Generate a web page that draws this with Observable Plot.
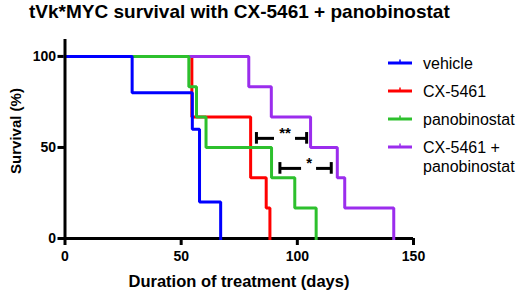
<!DOCTYPE html>
<html><head><meta charset="utf-8">
<script src="https://cdn.jsdelivr.net/npm/d3@7"></script>
<script src="https://cdn.jsdelivr.net/npm/@observablehq/plot@0.6"></script>
<style>
body{margin:0;background:#fff;font-family:"Liberation Sans",Arial,sans-serif;}
#title{height:30px;line-height:24px;font-size:19px;font-weight:bold;padding-left:29px;white-space:nowrap;color:#000;}
#chart svg{overflow:visible;}
</style></head><body>
<div id="title">tVk*MYC survival with CX-5461 + panobinostat</div>
<div id="chart"></div>
<script>
// ---- data ----
const groups = ["vehicle", "CX-5461", "panobinostat", "CX-5461 + panobinostat"];
const colors = ["#0000ff", "#ff0000", "#2dc02d", "#9b2ded"];

const vehicleDays = [0, 28.9, 54.8, 57.9, 67];
const vehicleSurv = [100, 80, 60, 20, 0];
const cxDays = [0, 54.6, 79.9, 86.6, 88.2];
const cxSurv = [100, 66.7, 33.3, 16.7, 0];
const panoDays = [0, 53.3, 56.6, 60.7, 88.9, 98.9, 108.1];
const panoSurv = [100, 83.3, 66.7, 50, 33.3, 16.7, 0];
const comboDays = [0, 79.1, 88.8, 105.7, 117.2, 120.4, 141.5];
const comboSurv = [100, 83.3, 66.7, 50, 33.3, 16.7, 0];

const xTicks = [0, 50, 100, 150];
const yTicks = [0, 50, 100];

// significance brackets (days, survival %)
const sigFrom = [82.4, 92.5];
const sigTo = [104, 114.6];
const sigLevel = [55, 38.5];
const sigLabels = ["**", "*"];

// ---- build tables ----
const series = {
  "vehicle": [vehicleDays, vehicleSurv],
  "CX-5461": [cxDays, cxSurv],
  "panobinostat": [panoDays, panoSurv],
  "CX-5461 + panobinostat": [comboDays, comboSurv]
};
// drawing order (bottom to top)
const drawOrder = ["CX-5461", "CX-5461 + panobinostat", "panobinostat", "vehicle"];
const rows = drawOrder.flatMap(g => series[g][0].map((d, i) => ({group: g, day: d, surv: series[g][1][i]})));
const brackets = sigLabels.map((l, i) => ({label: l, from: sigFrom[i], to: sigTo[i], level: sigLevel[i]}));

const font = "'Liberation Sans', Arial, sans-serif";
const pxPerDay = (520 - 64.5 - 107) / 150;
const gapDays = b => (b.label.length * 3 + 4.5) / pxPerDay;
const labelX = b => (b.from + b.to) / 2 + 1.5;

const svg = Plot.plot({
  width: 520, height: 265,
  marginLeft: 64.5, marginRight: 107, marginTop: 9, marginBottom: 57,
  style: {fontFamily: font, background: "white", color: "black", overflow: "visible"},
  x: {domain: [0, 150]},
  y: {domain: [0, 109.3]},
  color: {domain: groups, range: colors},
  marks: [
    Plot.axisX({ticks: xTicks, tickSize: 7, tickPadding: 6, strokeWidth: 3, fontSize: 14, fontWeight: "bold", label: null, tickFormat: d => d}),
    Plot.axisY({ticks: yTicks, tickSize: 7, tickPadding: 2, strokeWidth: 3, fontSize: 14, fontWeight: "bold", label: null, tickFormat: d => d}),
    Plot.ruleY([0], {strokeWidth: 3, stroke: "black"}),
    Plot.line(rows, {x: "day", y: "surv", z: "group", stroke: "group", strokeWidth: 3, curve: "step-after", strokeLinejoin: "miter", strokeLinecap: "square"}),
    Plot.ruleX([0], {strokeWidth: 3, stroke: "black"}),
    // bracket segments
    Plot.ruleY(brackets, {y: "level", x1: "from", x2: b => labelX(b) - gapDays(b), strokeWidth: 3, stroke: "black"}),
    Plot.ruleY(brackets, {y: "level", x1: b => labelX(b) + gapDays(b), x2: "to", strokeWidth: 3, stroke: "black"}),
    Plot.ruleX(brackets, {x: "from", y1: b => b.level - 3.2, y2: b => b.level + 3.2, strokeWidth: 3, stroke: "black"}),
    Plot.ruleX(brackets, {x: "to", y1: b => b.level - 3.2, y2: b => b.level + 3.2, strokeWidth: 3, stroke: "black"}),
    Plot.text(brackets, {x: labelX, y: "level", text: "label", fontSize: 15, fontWeight: "bold", lineAnchor: "middle", dy: -5, fill: "black"})
  ]
});

const s = d3.select(svg);
// axis titles
s.append("text").attr("x", 239).attr("y", 257).attr("text-anchor", "middle")
  .attr("font-size", 16.5).attr("font-weight", "bold").attr("font-family", font).attr("fill", "black")
  .text("Duration of treatment (days)");
s.append("text").attr("transform", "translate(21,101) rotate(-90)").attr("text-anchor", "middle")
  .attr("font-size", 15).attr("font-weight", "bold").attr("font-family", font).attr("fill", "black")
  .text("Survival (%)");

// legend
const lg = s.append("g").attr("font-family", font).attr("font-size", 16).attr("text-anchor", "start");
groups.forEach((g, i) => {
  const y = 33 + i * 28;
  lg.append("line").attr("x1", 388).attr("x2", 412).attr("y1", y).attr("y2", y)
    .attr("stroke", colors[i]).attr("stroke-width", 3);
  lg.append("line").attr("x1", 400).attr("x2", 400).attr("y1", y - 3.5).attr("y2", y)
    .attr("stroke", colors[i]).attr("stroke-width", 1.5);
  const parts = g.includes(" + ") ? [g.split(" + ")[0] + " +", g.split(" + ")[1]] : [g];
  const t = lg.append("text").attr("x", 423).attr("y", y).attr("fill", "black").attr("text-anchor", "start");
  parts.forEach((p, j) => {
    t.append("tspan").attr("x", 423).attr("dy", j === 0 ? "0.35em" : "19px").text(p);
  });
});

document.getElementById("chart").appendChild(svg);
</script>
</body></html>
